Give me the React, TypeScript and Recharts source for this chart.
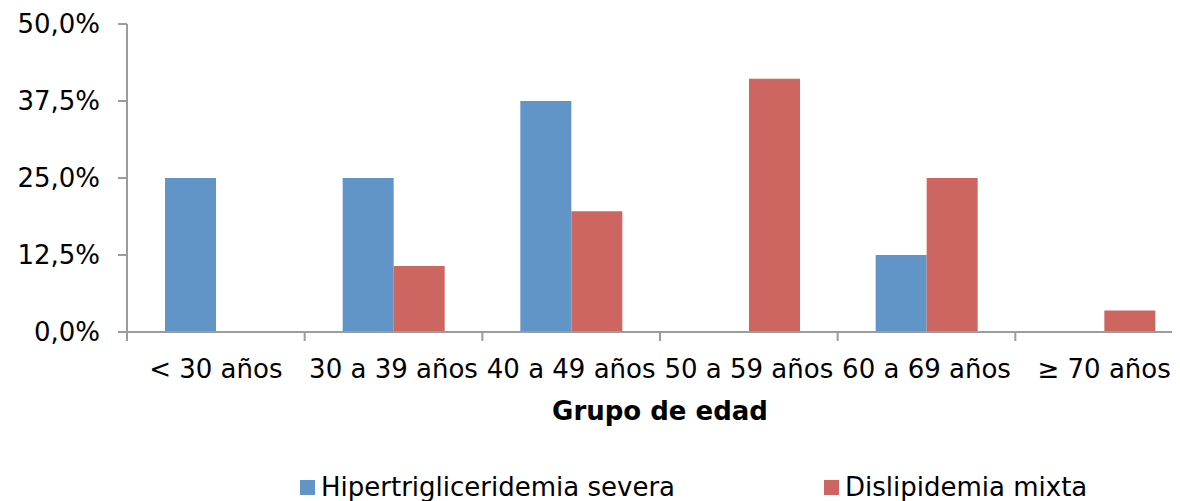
import { Bar, BarChart, Legend, XAxis, YAxis } from "recharts"

// Age groups on the category axis
const ageGroups = ["< 30 años", "30 a 39 años", "40 a 49 años", "50 a 59 años", "60 a 69 años", "≥ 70 años"]

// Share of patients per age group (%)
const hipertrigliceridemiaSevera = [25.0, 25.0, 37.5, 0, 12.5, 0]
const dislipidemiaMixta = [0, 10.7, 19.6, 41.1, 25.0, 3.5]

const yTicks = [0, 12.5, 25, 37.5, 50]

const data = ageGroups.map((grupo, i) => ({
    grupo,
    hiper: hipertrigliceridemiaSevera[i],
    disli: dislipidemiaMixta[i],
}))

const BLUE = "#6195c7"
const RED = "#cd6660"
const AXIS = "#9c9c9c"
const FONT = '"DejaVu Sans", Verdana, sans-serif'

const formatPercent = (v: number) => `${v.toFixed(1).replace(".", ",")}%`

// Category label plus Excel-style tick marks on the band edges
function AgeTick(props: any) {
    const { x, y, payload, index, visibleTicksCount } = props
    const half = payload?.offset ?? 0
    const isLast = index === visibleTicksCount - 1
    return (
        <g>
            <line x1={x - half} x2={x - half} y1={y} y2={y + 9} stroke={AXIS} strokeWidth={2} />
            {isLast && <line x1={x + half} x2={x + half} y1={y} y2={y + 9} stroke={AXIS} strokeWidth={2} />}
            <text x={x} y={y + 46} textAnchor="middle" fill="#000" fontSize={26} fontFamily={FONT}>
                {payload.value}
            </text>
        </g>
    )
}

// legend keeps the series order, not alphabetical
const seriesOrder = ["hiper", "disli"]
const legendLeft = [292, 816]

function LegendRow({ payload }: any) {
    const items = [...(payload || [])].sort(
        (a: any, b: any) => seriesOrder.indexOf(a.dataKey) - seriesOrder.indexOf(b.dataKey)
    )
    return (
        <div style={{ position: "relative", height: 28 }}>
            {items.map((item: any, i: number) => (
                <div
                    key={item.value}
                    style={{
                        position: "absolute",
                        left: legendLeft[i],
                        top: 0,
                        height: 28,
                        display: "flex",
                        alignItems: "center",
                        whiteSpace: "nowrap",
                    }}
                >
                    <span style={{ width: 15, height: 15, background: item.color, marginRight: 6 }} />
                    <span style={{ fontSize: 26, lineHeight: "28px", color: "#000", fontFamily: FONT }}>{item.value}</span>
                </div>
            ))}
        </div>
    )
}

export default function App() {
    return (
        <div style={{ width: 1172, height: 493, overflow: "hidden", fontFamily: FONT }}>
            <BarChart
                width={1200}
                height={493}
                data={data}
                margin={{ top: 16, right: 15, bottom: 0, left: 0 }}
                barGap={0}
            >
                <XAxis
                    dataKey="grupo"
                    height={141}
                    interval={0}
                    tickLine={false}
                    tickSize={0}
                    tickMargin={0}
                    axisLine={{ stroke: AXIS, strokeWidth: 2 }}
                    tick={<AgeTick />}
                    label={{
                        value: "Grupo de edad",
                        position: "insideBottom",
                        offset: 53,
                        fill: "#000",
                        fontSize: 26,
                        fontWeight: "bold",
                        fontFamily: FONT,
                    }}
                />
                <YAxis
                    width={119}
                    domain={[0, 50]}
                    ticks={yTicks}
                    interval={0}
                    tickFormatter={formatPercent}
                    tickSize={9}
                    tickMargin={18}
                    axisLine={{ stroke: AXIS, strokeWidth: 2 }}
                    tickLine={{ stroke: AXIS, strokeWidth: 2 }}
                    tick={{ fill: "#000", fontSize: 26, fontFamily: FONT }}
                />
                <Legend verticalAlign="bottom" wrapperStyle={{ left: 0, width: 1200, bottom: 0 }} content={<LegendRow />} />
                <Bar dataKey="hiper" name="Hipertrigliceridemia severa" fill={BLUE} barSize={51} isAnimationActive={false} />
                <Bar dataKey="disli" name="Dislipidemia mixta" fill={RED} barSize={51} isAnimationActive={false} />
            </BarChart>
        </div>
    )
}
